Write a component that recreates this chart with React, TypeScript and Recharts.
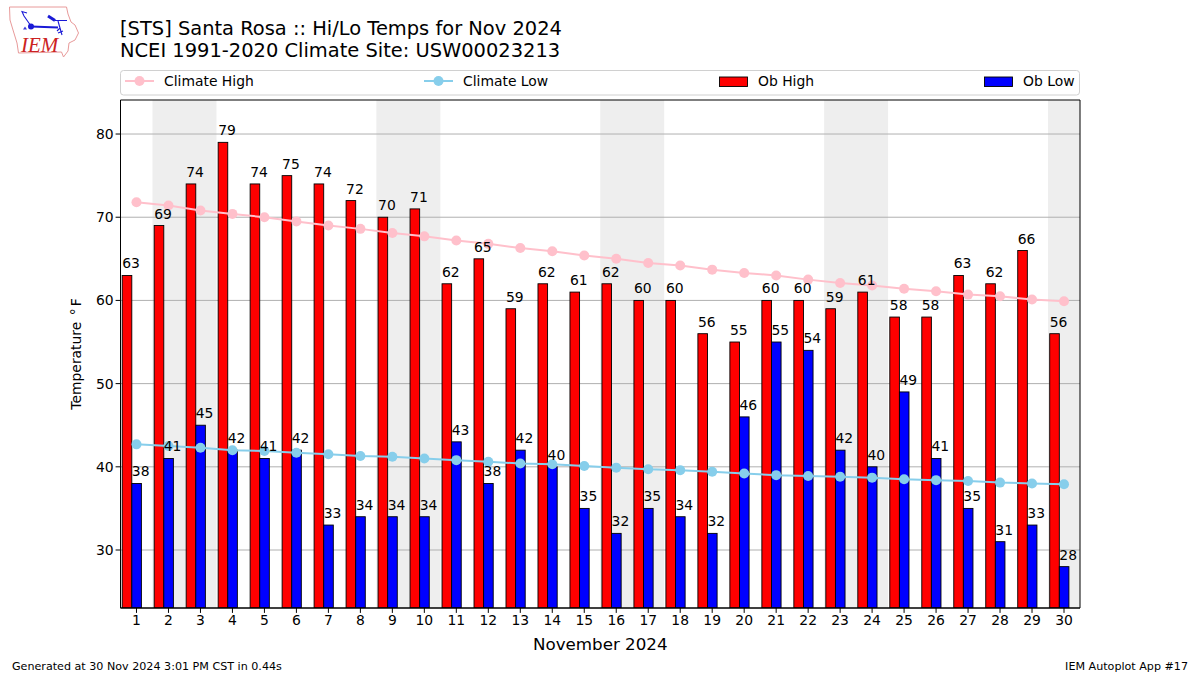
import React from "react";
import {
  ComposedChart,
  Bar,
  Line,
  XAxis,
  YAxis,
  CartesianGrid,
  ReferenceArea,
  LabelList,
} from "recharts";

const days = Array.from({ length: 30 }, (_, i) => i + 1);
const obHigh = [63, 69, 74, 79, 74, 75, 74, 72, 70, 71, 62, 65, 59, 62, 61, 62, 60, 60, 56, 55, 60, 60, 59, 61, 58, 58, 63, 62, 66, 56];
const obLow = [38, 41, 45, 42, 41, 42, 33, 34, 34, 34, 43, 38, 42, 40, 35, 32, 35, 34, 32, 46, 55, 54, 42, 40, 49, 41, 35, 31, 33, 28];
const climateHigh = [71.8, 71.4, 70.8, 70.4, 70.0, 69.5, 69.0, 68.6, 68.1, 67.7, 67.2, 66.8, 66.3, 65.9, 65.4, 65.0, 64.5, 64.2, 63.7, 63.3, 63.0, 62.5, 62.1, 61.8, 61.4, 61.1, 60.7, 60.5, 60.1, 59.9];
const climateLow = [42.7, 42.5, 42.3, 42.0, 41.9, 41.7, 41.5, 41.3, 41.2, 41.0, 40.8, 40.6, 40.4, 40.3, 40.1, 39.9, 39.7, 39.6, 39.4, 39.2, 39.0, 38.9, 38.8, 38.7, 38.5, 38.4, 38.3, 38.1, 38.0, 37.9];
const weekends: [number, number][] = [[2, 3], [9, 10], [16, 17], [23, 24], [30, 30]];
const yTicks = [30, 40, 50, 60, 70, 80];

const titleLines = ["[STS] Santa Rosa :: Hi/Lo Temps for Nov 2024", "NCEI 1991-2020 Climate Site: USW00023213"];
const xTitle = "November 2024";
const footLeft = "Generated at 30 Nov 2024 3:01 PM CST in 0.44s";
const footRight = "IEM Autoplot App #17";

const data = days.map((day, i) => ({
  day,
  obHigh: obHigh[i],
  obLow: obLow[i],
  climateHigh: climateHigh[i],
  climateLow: climateLow[i],
}));

const FONT = "DejaVu Sans";
const BAR_W = 9.6;
const SHIFT = 4.3;

const ShiftedBar = (props: any) => (
  <rect x={props.x - SHIFT} y={props.y} width={props.width} height={props.height} fill={props.fill} stroke="#000" strokeWidth={0.9} />
);

const BarValue = (props: any) => (
  <text x={props.x - SHIFT} y={props.y - 7} textAnchor="start" fontFamily={FONT} fontSize={13.9} fill="#000">
    {props.value}
  </text>
);

const Overlay = () => (
  <svg width={1200} height={675} style={{ position: "absolute", left: 0, top: 0, pointerEvents: "none" }}>
    {/* logo */}
    <path d="M9.5 7 L66.5 7 L68 14 L71 22 L75 25 L78.5 33 L75 40 L69 43 L68 51 L63.5 57 L61.5 52 L18.5 53 L17 43 L13 30 L10 20 Z" fill="#fff" stroke="#e89a9a" strokeWidth={1} />
    <path d="M31 26.5 L58 27.5" fill="none" stroke="#1a1ad6" strokeWidth={1.8} />
    <path d="M48 16 L55 20.5" fill="none" stroke="#1a1ad6" strokeWidth={3} />
    <path d="M55 20.5 L67 20.5 M58 21 L62 35 M31 26 L24 16 L22 11.5 L27 13 M57 31 L60 28 M58 33 L63 31" fill="none" stroke="#1a1ad6" strokeWidth={1.1} />
    <path d="M23 29.5 L25 26.5 L27 29.5 Z" fill="#3a3ad6" />
    <circle cx={31} cy={26.5} r={3} fill="#1a1ad6" />
    <text x={21} y={52} fontFamily="Liberation Serif" fontStyle="italic" fontSize={21} fill="#cc2222">IEM</text>

    {/* titles */}
    <text x={120} y={35} fontFamily={FONT} fontSize={19.44} fill="#000">{titleLines[0]}</text>
    <text x={120} y={57} fontFamily={FONT} fontSize={19.44} fill="#000">{titleLines[1]}</text>

    {/* legend */}
    <rect x={120.5} y={70.5} width={959} height={24.5} rx={3} fill="#fff" stroke="#d0d0d0" strokeWidth={1} />
    <line x1={125} x2={154} y1={81} y2={81} stroke="pink" strokeWidth={2} />
    <circle cx={139.5} cy={81} r={5} fill="pink" />
    <text x={164} y={86} fontFamily={FONT} fontSize={13.9}>Climate High</text>
    <line x1={424} x2={453} y1={81} y2={81} stroke="skyblue" strokeWidth={2} />
    <circle cx={438.5} cy={81} r={5} fill="skyblue" />
    <text x={463} y={86} fontFamily={FONT} fontSize={13.9}>Climate Low</text>
    <rect x={719.5} y={77} width={28} height={9.5} fill="red" stroke="#000" strokeWidth={0.9} />
    <text x={758} y={86} fontFamily={FONT} fontSize={13.9}>Ob High</text>
    <rect x={984.5} y={77} width={28} height={9.5} fill="blue" stroke="#000" strokeWidth={0.9} />
    <text x={1023} y={86} fontFamily={FONT} fontSize={13.9}>Ob Low</text>

    {/* y title + footer */}
    <text transform="translate(81,354) rotate(-90)" textAnchor="middle" fontFamily={FONT} fontSize={13.9}>
      Temperature <tspan dx={2}>{"\u00B0"}</tspan>
      <tspan dx={2}>F</tspan>
    </text>
    <text x={12} y={670} fontFamily={FONT} fontSize={11.13}>{footLeft}</text>
    <text x={1188} y={670} textAnchor="end" fontFamily={FONT} fontSize={11.13}>{footRight}</text>
  </svg>
);

export default function App() {
  return (
    <div style={{ position: "absolute", left: 0, top: 0, width: 1200, height: 675, background: "#fff" }}>
      <ComposedChart
        width={1200}
        height={675}
        data={data}
        barSize={BAR_W}
        barGap={0}
        margin={{ top: 100, right: 120, bottom: 0, left: 60.5 }}
      >
        {weekends.map(([a, b]) => (
          <ReferenceArea key={a} x1={a} x2={b} y1={23.03} y2={84.09} fill="#eeeeee" fillOpacity={1} stroke="none" ifOverflow="hidden" zIndex={-200} {...({} as any)} />
        ))}
        <CartesianGrid horizontal vertical={false} stroke="#b0b0b0" strokeWidth={1} syncWithTicks />
        <XAxis
          dataKey="day"
          type="category"
          height={67}
          interval={0}
          tickLine={{ stroke: "#000" }}
          tickSize={4.9}
          axisLine={{ stroke: "#000" }}
          tick={{ fontFamily: FONT, fontSize: 13.9, fill: "#000" }}
          label={{ value: xTitle, position: "insideTop", offset: 30, fontFamily: FONT, fontSize: 16.7, fill: "#000" }}
        />
        <YAxis
          width={60}
          domain={[23.03, 84.09]}
          allowDataOverflow
          ticks={yTicks}
          tickLine={{ stroke: "#000" }}
          tickSize={4.9}
          axisLine={{ stroke: "#000" }}
          tick={{ fontFamily: FONT, fontSize: 13.9, fill: "#000" }}
        />
        <Bar dataKey="obHigh" name="Ob High" fill="red" isAnimationActive={false} shape={ShiftedBar}>
          <LabelList dataKey="obHigh" content={BarValue} />
        </Bar>
        <Bar dataKey="obLow" name="Ob Low" fill="blue" isAnimationActive={false} shape={ShiftedBar}>
          <LabelList dataKey="obLow" content={BarValue} />
        </Bar>
        <Line dataKey="climateHigh" name="Climate High" stroke="pink" strokeWidth={2} dot={{ r: 5, fill: "pink", stroke: "pink", strokeWidth: 0 }} isAnimationActive={false} />
        <Line dataKey="climateLow" name="Climate Low" stroke="skyblue" strokeWidth={2} dot={{ r: 5, fill: "skyblue", stroke: "skyblue", strokeWidth: 0 }} isAnimationActive={false} />
        <ReferenceArea x1={1} x2={30} y1={23.03} y2={84.09} fill="none" stroke="#000" strokeWidth={1} ifOverflow="visible" zIndex={1500} {...({} as any)} />
      </ComposedChart>
      <Overlay />
    </div>
  );
}
